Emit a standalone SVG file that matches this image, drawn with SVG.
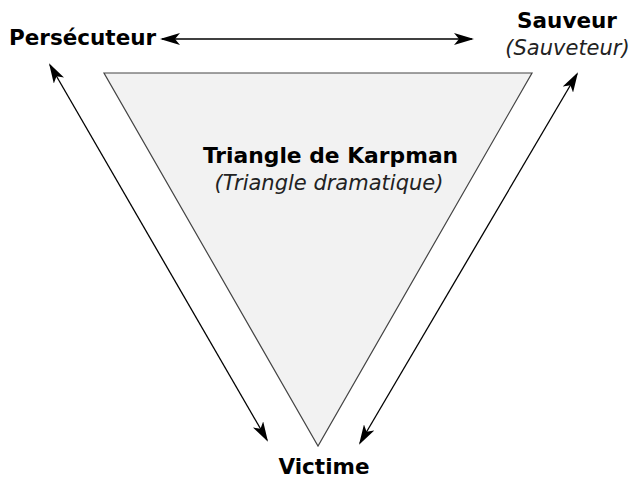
<svg xmlns="http://www.w3.org/2000/svg" width="631" height="478" viewBox="0 0 631 478">
<defs>
<style>
.b{font-family:"DejaVu Sans",sans-serif;font-weight:bold;fill:#000}
.i{font-family:"DejaVu Sans",sans-serif;font-style:italic;fill:#222}
.c{stroke:#000;stroke-width:1.3;fill:none;marker-start:url(#a);marker-end:url(#a)}
</style>
<marker id="a" viewBox="0 0 20 12" refX="18" refY="6" markerWidth="20" markerHeight="12" markerUnits="userSpaceOnUse" orient="auto-start-reverse">
<path d="M0,0 L20,6 L0,12 L5,6 z" fill="#000"/>
</marker>
</defs>
<rect width="631" height="478" fill="#fff"/>
<g id="triangle">
<polygon points="104,73 532,73 318,446" fill="#f2f2f2" stroke="#444" stroke-width="1.2"/>
<text class="b" x="330.5" y="163" font-size="21.8" text-anchor="middle">Triangle de Karpman</text>
<text class="i" x="329" y="190" font-size="21" text-anchor="middle">(Triangle dramatique)</text>
</g>
<g id="persecuteur">
<text class="b" x="9" y="45" font-size="21.5">Persécuteur</text>
</g>
<g id="sauveur">
<text class="b" x="567" y="28" font-size="21.5" text-anchor="middle">Sauveur</text>
<text class="i" x="567.5" y="55" font-size="21" text-anchor="middle">(Sauveteur)</text>
</g>
<g id="victime">
<text class="b" x="324" y="473.5" font-size="21.5" text-anchor="middle">Victime</text>
</g>
<g id="connectors">
<line class="c" x1="162" y1="39" x2="472" y2="39"/>
<line class="c" x1="50" y1="65" x2="267" y2="440"/>
<line class="c" x1="577" y1="74" x2="360" y2="443"/>
</g>
</svg>
